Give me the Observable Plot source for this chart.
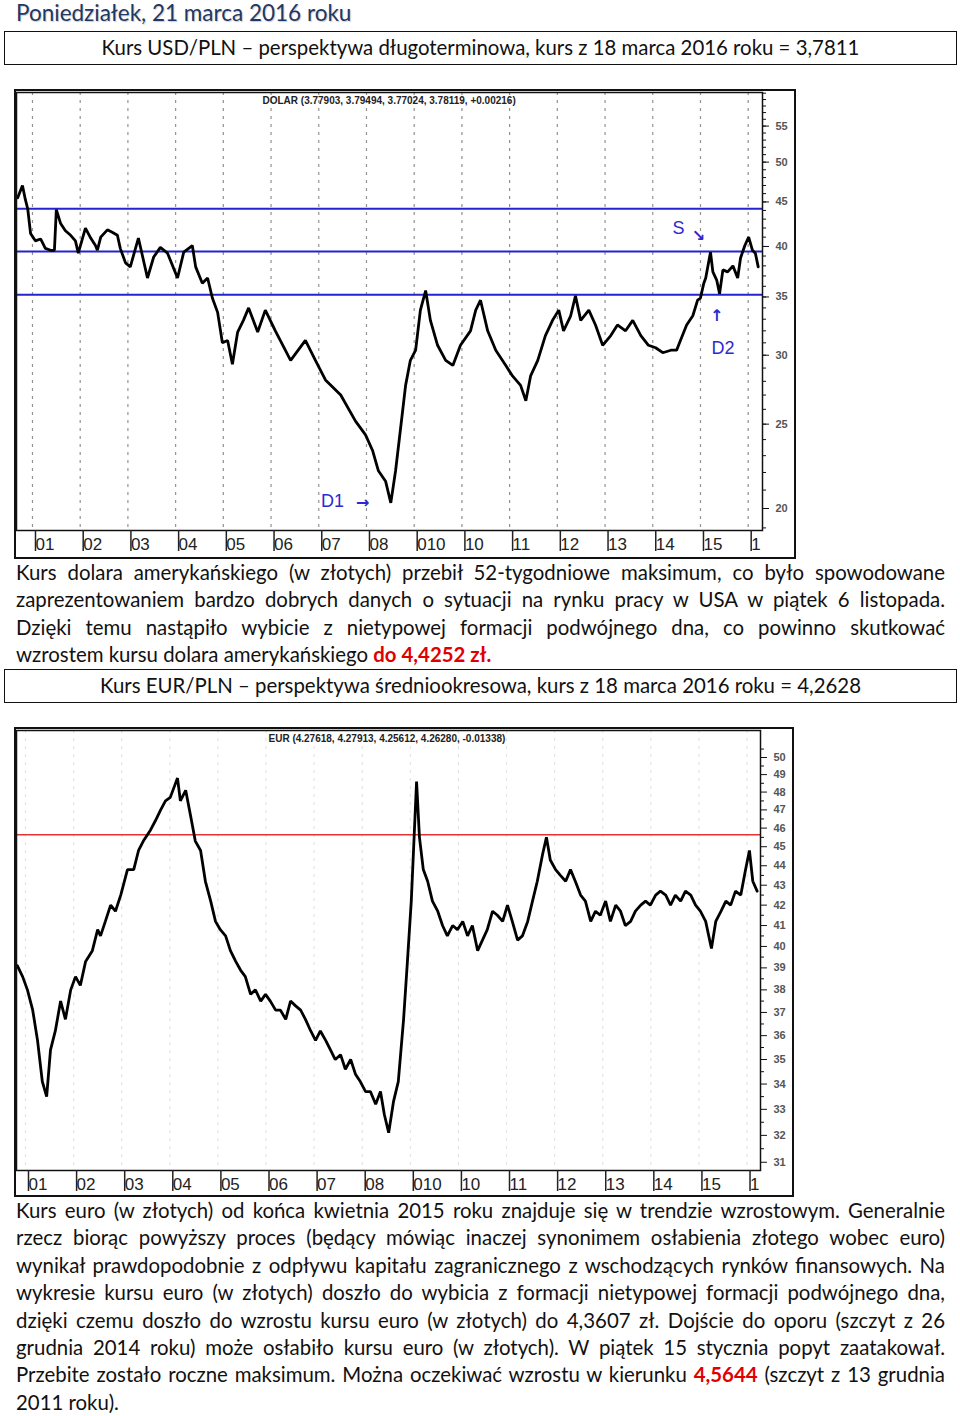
<!DOCTYPE html>
<html>
<head>
<meta charset="utf-8">
<script src="https://cdn.jsdelivr.net/npm/d3@7"></script>
<script src="https://cdn.jsdelivr.net/npm/@observablehq/plot@0.6"></script>
<style>
  html, body { margin: 0; padding: 0; background: #fff; }
  body { position: relative; width: 960px; height: 1416px; font-family: Lato, "Open Sans", sans-serif; color: #111; overflow: hidden; }
  .title { position: absolute; left: 16px; top: -1px; font-size: 22.5px; color: #1f3864; text-shadow: 1px 1px 1px rgba(0,0,0,0.2); white-space: nowrap; }
  .box { position: absolute; left: 4px; width: 953px; height: 34px; box-sizing: border-box; border: 1.5px solid #111; text-align: center; font-size: 20.4px; line-height: 31px; white-space: nowrap; }
  .chart { position: absolute; left: 14px; border: 2px solid #111; background: #fff; }
  .chart svg { display: block; }
  .para { position: absolute; left: 16px; width: 929px; font-size: 20.4px; }
  .para div { height: 27.4px; line-height: 27.4px; text-align: justify; text-align-last: justify; white-space: nowrap; }
  .para div.last { text-align-last: left; }
  .red { color: #e00000; font-weight: bold; }
</style>
</head>
<body>
<div class="title">Poniedziałek, 21 marca 2016 roku</div>
<div class="box" style="top:31px">Kurs USD/PLN – perspektywa długoterminowa, kurs z 18 marca 2016 roku = 3,7811</div>
<div class="chart" id="chart1" style="top:89px"></div>
<div class="para" style="top:559px">
  <div>Kurs dolara amerykańskiego (w złotych) przebił 52-tygodniowe maksimum, co było spowodowane</div>
  <div>zaprezentowaniem bardzo dobrych danych o sytuacji na rynku pracy w USA w piątek 6 listopada.</div>
  <div>Dzięki temu nastąpiło wybicie z nietypowej formacji podwójnego dna, co powinno skutkować</div>
  <div class="last">wzrostem kursu dolara amerykańskiego <span class="red">do 4,4252 zł.</span></div>
</div>
<div class="box" style="top:669px">Kurs EUR/PLN – perspektywa średniookresowa, kurs z 18 marca 2016 roku = 4,2628</div>
<div class="chart" id="chart2" style="top:727px"></div>
<div class="para" style="top:1197px">
  <div>Kurs euro (w złotych) od końca kwietnia 2015 roku znajduje się w trendzie wzrostowym. Generalnie</div>
  <div>rzecz biorąc powyższy proces (będący mówiąc inaczej synonimem osłabienia złotego wobec euro)</div>
  <div>wynikał prawdopodobnie z odpływu kapitału zagranicznego z wschodzących rynków finansowych. Na</div>
  <div>wykresie kursu euro (w złotych) doszło do wybicia z formacji nietypowej formacji podwójnego dna,</div>
  <div>dzięki czemu doszło do wzrostu kursu euro (w złotych) do 4,3607 zł. Dojście do oporu (szczyt z 26</div>
  <div>grudnia 2014 roku) może osłabiło kursu euro (w złotych). W piątek 15 stycznia popyt zaatakował.</div>
  <div>Przebite zostało roczne maksimum. Można oczekiwać wzrostu w kierunku <span class="red">4,5644</span> (szczyt z 13 grudnia</div>
  <div class="last">2011 roku).</div>
</div>
<script>
// ---------- shared axis data ----------
const yearTicks = [2001, 2002, 2003, 2004, 2005, 2006, 2007, 2008, 2009, 2010, 2011, 2012, 2013, 2014, 2015, 2016];
const yearLabels = ["01", "02", "03", "04", "05", "06", "07", "08", "010", "10", "11", "12", "13", "14", "15", "1"];

// ---------- USD/PLN (decimal year, rate) ----------
const usdYears = [2000.69, 2000.79, 2000.85, 2000.90, 2000.96, 2001.06, 2001.17, 2001.27, 2001.38, 2001.46, 2001.50, 2001.59, 2001.69, 2001.80, 2001.90, 2001.96,
  2002.11, 2002.22, 2002.32, 2002.36, 2002.43, 2002.57, 2002.68, 2002.78, 2002.84, 2002.95, 2003.05, 2003.22, 2003.41, 2003.54, 2003.68, 2003.83,
  2004.04, 2004.17, 2004.35, 2004.42, 2004.56, 2004.67, 2004.77, 2004.88, 2004.98, 2005.09, 2005.19, 2005.30, 2005.42, 2005.53, 2005.72, 2005.88,
  2006.09, 2006.41, 2006.72, 2006.93, 2007.14, 2007.46, 2007.77, 2007.98, 2008.13, 2008.25, 2008.40, 2008.51, 2008.61, 2008.71, 2008.82, 2008.92,
  2009.03, 2009.13, 2009.24, 2009.34, 2009.49, 2009.66, 2009.81, 2009.97, 2010.18, 2010.29, 2010.39, 2010.54, 2010.71, 2010.92, 2011.06, 2011.23,
  2011.34, 2011.44, 2011.59, 2011.75, 2011.90, 2012.03, 2012.13, 2012.28, 2012.38, 2012.49, 2012.66, 2012.80, 2012.95, 2013.12, 2013.26, 2013.43,
  2013.58, 2013.75, 2013.91, 2014.06, 2014.21, 2014.38, 2014.50, 2014.58, 2014.71, 2014.84, 2014.94, 2015.00, 2015.07, 2015.11, 2015.21, 2015.26,
  2015.34, 2015.40, 2015.47, 2015.57, 2015.68, 2015.78, 2015.84, 2015.93, 2016.01, 2016.09, 2016.15, 2016.21];
const usdRates = [4.55, 4.70, 4.53, 4.42, 4.14, 4.06, 4.08, 3.98, 3.96, 3.96, 4.41, 4.25, 4.17, 4.12, 4.06, 3.93,
  4.20, 4.09, 4.01, 3.96, 4.10, 4.18, 4.15, 4.12, 3.98, 3.83, 3.79, 4.09, 3.68, 3.89, 3.99, 3.93,
  3.68, 3.94, 4.01, 3.79, 3.63, 3.68, 3.49, 3.36, 3.10, 3.12, 2.93, 3.19, 3.29, 3.40, 3.19, 3.38,
  3.20, 2.96, 3.12, 2.96, 2.81, 2.70, 2.52, 2.43, 2.33, 2.21, 2.15, 2.03, 2.21, 2.46, 2.77, 2.96,
  3.04, 3.38, 3.56, 3.29, 3.08, 2.96, 2.92, 3.08, 3.20, 3.38, 3.47, 3.20, 3.04, 2.92, 2.84, 2.77,
  2.66, 2.84, 2.96, 3.16, 3.29, 3.38, 3.20, 3.33, 3.51, 3.29, 3.38, 3.25, 3.08, 3.16, 3.25, 3.20,
  3.29, 3.16, 3.08, 3.06, 3.02, 3.04, 3.04, 3.12, 3.25, 3.33, 3.47, 3.49, 3.63, 3.68, 3.94, 3.74,
  3.66, 3.53, 3.76, 3.74, 3.80, 3.68, 3.88, 4.01, 4.10, 3.96, 3.93, 3.79];
const usdLevels = [4.42, 3.947, 3.52];
const usdMajor = [2.0, 2.5, 3.0, 3.5, 4.0, 4.5, 5.0, 5.5];
const usdMinor = [1.9, 2.0, 2.1, 2.2, 2.3, 2.4, 2.5, 2.6, 2.7, 2.8, 2.9, 3.0, 3.1, 3.2, 3.3, 3.4, 3.5, 3.6, 3.7, 3.8, 3.9, 4.0, 4.1, 4.2, 4.3, 4.4, 4.5, 4.6, 4.7, 4.8, 4.9, 5.0, 5.1, 5.2, 5.3, 5.4, 5.5, 5.6, 5.7, 5.8, 5.9, 6.0];
const usdHeader = "DOLAR (3.77903, 3.79494, 3.77024, 3.78119, +0.00216)";
const usdNotes = ["S", "D2", "D1"];
const usdNoteYears = [2014.54, 2015.47, 2007.29];
const usdNoteRates = [4.20, 3.06, 2.04];
const usdArrows = ["↘", "↑", "→"];
const usdArrowYears = [2014.96, 2015.34, 2007.92];
const usdArrowRates = [4.11, 3.33, 2.03];

// ---------- EUR/PLN (decimal year, rate) ----------
const eurYears = [2000.83, 2000.94, 2001.04, 2001.15, 2001.25, 2001.35, 2001.44, 2001.52, 2001.62, 2001.73, 2001.83, 2001.94, 2002.04, 2002.14, 2002.25, 2002.39,
  2002.50, 2002.56, 2002.66, 2002.77, 2002.87, 2002.98, 2003.12, 2003.25, 2003.35, 2003.45, 2003.60, 2003.70, 2003.81, 2003.91, 2004.01, 2004.16,
  2004.22, 2004.33, 2004.43, 2004.53, 2004.64, 2004.74, 2004.85, 2004.95, 2005.05, 2005.16, 2005.26, 2005.37, 2005.47, 2005.57, 2005.68, 2005.78,
  2005.89, 2005.99, 2006.09, 2006.20, 2006.30, 2006.41, 2006.51, 2006.61, 2006.72, 2006.82, 2006.93, 2007.03, 2007.13, 2007.24, 2007.34, 2007.44,
  2007.55, 2007.65, 2007.76, 2007.86, 2007.96, 2008.07, 2008.17, 2008.28, 2008.38, 2008.46, 2008.55, 2008.65, 2008.75, 2008.86, 2008.94, 2009.02,
  2009.13, 2009.19, 2009.27, 2009.36, 2009.46, 2009.57, 2009.67, 2009.77, 2009.88, 2009.98, 2010.09, 2010.19, 2010.29, 2010.40, 2010.50, 2010.60,
  2010.71, 2010.81, 2010.92, 2011.02, 2011.12, 2011.23, 2011.33, 2011.44, 2011.54, 2011.64, 2011.75, 2011.83, 2011.91, 2012.02, 2012.12, 2012.23,
  2012.33, 2012.43, 2012.54, 2012.64, 2012.75, 2012.85, 2012.95, 2013.06, 2013.16, 2013.27, 2013.37, 2013.47, 2013.58, 2013.68, 2013.79, 2013.89,
  2013.99, 2014.10, 2014.20, 2014.31, 2014.41, 2014.51, 2014.62, 2014.72, 2014.83, 2014.93, 2015.03, 2015.14, 2015.26, 2015.35, 2015.46, 2015.56,
  2015.66, 2015.76, 2015.87, 2015.97, 2016.05, 2016.12, 2016.21];
const eurRates = [3.91, 3.86, 3.80, 3.71, 3.58, 3.41, 3.35, 3.54, 3.62, 3.75, 3.67, 3.80, 3.86, 3.82, 3.93, 3.98,
  4.08, 4.05, 4.12, 4.20, 4.17, 4.25, 4.38, 4.38, 4.48, 4.53, 4.59, 4.64, 4.70, 4.75, 4.77, 4.88,
  4.75, 4.81, 4.67, 4.53, 4.48, 4.32, 4.22, 4.12, 4.08, 4.05, 3.98, 3.93, 3.89, 3.86, 3.78, 3.80,
  3.75, 3.78, 3.75, 3.71, 3.71, 3.67, 3.75, 3.73, 3.71, 3.67, 3.62, 3.58, 3.62, 3.58, 3.54, 3.50,
  3.52, 3.46, 3.50, 3.44, 3.41, 3.37, 3.37, 3.32, 3.37, 3.28, 3.21, 3.33, 3.41, 3.67, 3.93, 4.22,
  4.86, 4.55, 4.38, 4.32, 4.22, 4.17, 4.10, 4.05, 4.10, 4.08, 4.12, 4.05, 4.10, 3.98, 4.03, 4.08,
  4.17, 4.15, 4.12, 4.20, 4.12, 4.03, 4.05, 4.12, 4.22, 4.32, 4.46, 4.55, 4.43, 4.38, 4.35, 4.32,
  4.38, 4.32, 4.25, 4.22, 4.12, 4.17, 4.15, 4.22, 4.12, 4.20, 4.17, 4.10, 4.12, 4.17, 4.20, 4.22,
  4.20, 4.25, 4.27, 4.25, 4.20, 4.25, 4.22, 4.27, 4.25, 4.20, 4.17, 4.12, 3.99, 4.12, 4.17, 4.22,
  4.20, 4.27, 4.25, 4.38, 4.48, 4.32, 4.27];
const eurLevels = [4.5644];
const eurMajor = [3.1, 3.2, 3.3, 3.4, 3.5, 3.6, 3.7, 3.8, 3.9, 4.0, 4.1, 4.2, 4.3, 4.4, 4.5, 4.6, 4.7, 4.8, 4.9, 5.0];
const eurMinor = [3.15, 3.25, 3.35, 3.45, 3.55, 3.65, 3.75, 3.85, 3.95, 4.05, 4.15, 4.25, 4.35, 4.45, 4.55, 4.65, 4.75, 4.85, 4.95, 5.05];
const eurHeader = "EUR (4.27618, 4.27913, 4.25612, 4.26280, -0.01338)";

// ---------- builder ----------
const labelOf = new Map(yearTicks.map((y, i) => [y, yearLabels[i]]));

function buildChart({years, rates, xDomain, yDomain, levels, levelColor, levelWidth, major, minor, header, headerDx, width, height, marginRight, marginBottom, gridOpacity, extra}) {
  const data = years.map((x, i) => ({x, y: rates[i]}));
  return Plot.plot({
    width, height,
    marginLeft: 0, marginRight, marginTop: 1, marginBottom,
    style: {fontFamily: "'Liberation Sans', Arial, sans-serif", fontSize: "10px", background: "#fff"},
    x: {type: "linear", domain: xDomain},
    y: {type: "log", domain: yDomain},
    marks: [
      Plot.gridX(yearTicks, {stroke: "#777", strokeOpacity: gridOpacity, strokeDasharray: "3,5", strokeWidth: 1.2}),
      Plot.ruleY(levels, {stroke: levelColor, strokeWidth: levelWidth}),
      Plot.line(data, {x: "x", y: "y", stroke: "#000", strokeWidth: 2.8, strokeLinejoin: "miter"}),
      Plot.text([header], {frameAnchor: "top-left", dx: headerDx, dy: 4, fontSize: 10, fontWeight: "bold", fill: "#222", textAnchor: "start"}),
      ...extra,
      Plot.frame({stroke: "#111", strokeWidth: 1.5}),
      Plot.axisY(minor, {anchor: "right", tickSize: 3, tickFormat: () => "", label: null, stroke: "#111"}),
      Plot.axisY(major, {anchor: "right", tickSize: 6, tickPadding: 7, tickFormat: d => String(Math.round(d * 10)), label: null, fontSize: 11, fontWeight: "bold", fill: "#555", stroke: "#111"}),
      Plot.axisX(yearTicks, {anchor: "bottom", tickSize: 21, tickPadding: -7, textAnchor: "start", lineAnchor: "middle", dx: 3, tickFormat: d => labelOf.get(d), label: null, fontSize: 17, fill: "#222", stroke: "#222", strokeWidth: 1.5})
    ]
  });
}

const usdExtra = [
  Plot.text(usdNotes, {x: (d, i) => usdNoteYears[i], y: (d, i) => usdNoteRates[i], text: d => d, fill: "#2a2ad2", fontSize: 18, fontFamily: "'Liberation Sans', Arial, sans-serif"}),
  Plot.text(usdArrows, {x: (d, i) => usdArrowYears[i], y: (d, i) => usdArrowRates[i], text: d => d, fill: "#2a2ad2", fontSize: 16, fontWeight: "bold", fontFamily: "'DejaVu Sans', sans-serif"})
];

document.getElementById("chart1").appendChild(buildChart({
  years: usdYears, rates: usdRates,
  xDomain: [2000.665, 2016.30], yDomain: [1.887, 6.011],
  levels: usdLevels, levelColor: "#2323cf", levelWidth: 2,
  major: usdMajor, minor: usdMinor, header: usdHeader, headerDx: 246,
  width: 778, height: 466, marginRight: 32, marginBottom: 27, gridOpacity: 0.8,
  extra: usdExtra
}));

document.getElementById("chart2").appendChild(buildChart({
  years: eurYears, rates: eurRates,
  xDomain: [2000.813, 2016.28], yDomain: [3.070, 5.162],
  levels: eurLevels, levelColor: "#e63232", levelWidth: 1.6,
  major: eurMajor, minor: eurMinor, header: eurHeader, headerDx: 252,
  width: 776, height: 466, marginRight: 32, marginBottom: 25, gridOpacity: 0.2,
  extra: []
}));
</script>
</body>
</html>
